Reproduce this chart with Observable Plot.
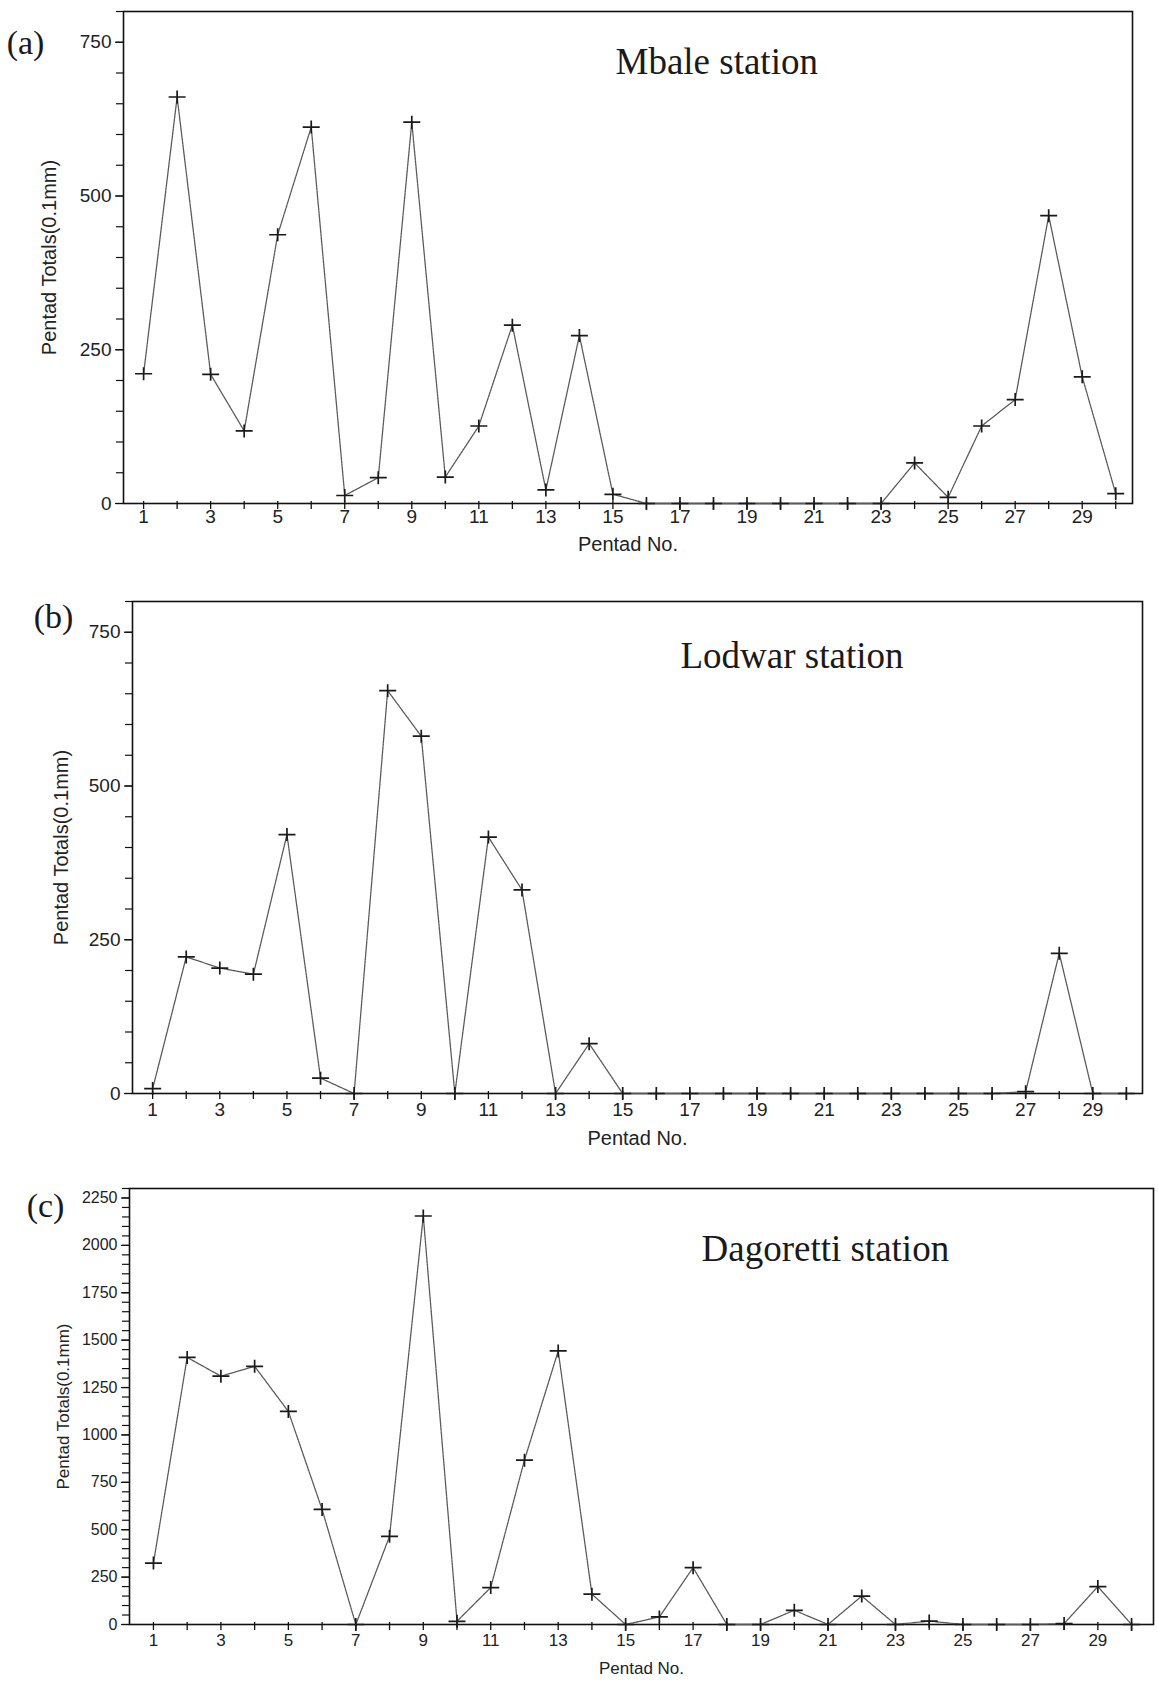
<!DOCTYPE html>
<html>
<head>
<meta charset="utf-8">
<script src="https://cdn.jsdelivr.net/npm/d3@7"></script>
<script src="https://cdn.jsdelivr.net/npm/@observablehq/plot@0.6"></script>
<style>
  html, body { margin: 0; padding: 0; background: #ffffff; }
  body { width: 1158px; height: 1682px; position: relative; overflow: hidden; font-family: "Liberation Sans", Arial, sans-serif; }
  .panel { position: absolute; left: 0; }
</style>
</head>
<body>
<div id="pa" class="panel" style="top:0px"></div>
<div id="pb" class="panel" style="top:580px"></div>
<div id="pc" class="panel" style="top:1160px"></div>
<script>
// ---------- data ----------
const pentads = [1,2,3,4,5,6,7,8,9,10,11,12,13,14,15,16,17,18,19,20,21,22,23,24,25,26,27,28,29,30];
const xTickLabels = [1,3,5,7,9,11,13,15,17,19,21,23,25,27,29];

const mbaleValues = [211, 661, 210, 118, 437, 612, 13, 42, 620, 43, 126, 290, 22, 273, 15,
                     0, 0, 0, 0, 0, 0, 0, 0, 66, 10, 126, 169, 468, 206, 16];
const lodwarValues = [8, 222, 204, 194, 421, 25, 0, 655, 581, 0, 417, 331, 0, 81, 0,
                      0, 0, 0, 0, 0, 0, 0, 0, 0, 0, 0, 3, 228, 0, 0];
const dagorettiValues = [324, 1409, 1310, 1362, 1124, 607, 0, 465, 2155, 17, 195, 867, 1443, 160, 0,
                         40, 300, 0, 0, 75, 0, 150, 0, 18, 0, 0, 0, 5, 200, 0];

const yTicksAB = [0, 250, 500, 750];
const yMinorAB = [0,50,100,150,200,250,300,350,400,450,500,550,600,650,700,750,800];
const yTicksC = [0, 250, 500, 750, 1000, 1250, 1500, 1750, 2000, 2250];
const yMinorC = [0,50,100,150,200,250,300,350,400,450,500,550,600,650,700,750,800,850,900,950,1000,
                 1050,1100,1150,1200,1250,1300,1350,1400,1450,1500,1550,1600,1650,1700,1750,1800,1850,
                 1900,1950,2000,2050,2100,2150,2200,2250,2300];

const panelLetters = ["(a)", "(b)", "(c)"];
const stationNames = ["Mbale station", "Lodwar station", "Dagoretti station"];
const yLabel = "Pentad Totals(0.1mm)";
const xLabel = "Pentad No.";

// ---------- drawing ----------
const plusSymbol = {
  draw(ctx) {
    ctx.moveTo(-8.5, 0); ctx.lineTo(8.5, 0);
    ctx.moveTo(0, -6.5); ctx.lineTo(0, 6.5);
  }
};

const SANS = "'Liberation Sans', Arial, Helvetica, sans-serif";
const SERIF = "'Liberation Serif', 'Times New Roman', serif";

function makePanel(cfg) {
  const table = pentads.map((p, i) => ({pentad: p, value: cfg.values[i]}));
  const chart = Plot.plot({
    width: 1158,
    height: cfg.height,
    marginTop: cfg.mt, marginRight: cfg.mr, marginBottom: cfg.mb, marginLeft: cfg.ml,
    x: {domain: cfg.xDomain},
    y: {domain: cfg.yDomain},
    style: {fontFamily: SANS, background: "transparent", color: "#111", fontSize: cfg.tickFont + "px"},
    marks: [
      Plot.axisY({ticks: cfg.yMinor, tickSize: 7, tickFormat: () => "", label: null, stroke: "#111", strokeWidth: 1.2}),
      Plot.axisY({ticks: cfg.yMajor, tickSize: 8, tickPadding: 4, tickFormat: d => String(d), label: null,
        fontSize: cfg.tickFont, stroke: "#111", strokeWidth: 1.2, fill: "#222"}),
      Plot.axisX({ticks: pentads, tickSize: 8, dy: -2, tickFormat: () => "", label: null, stroke: "#111", strokeWidth: 1.3}),
      Plot.axisX({ticks: xTickLabels, tickSize: 0, tickPadding: cfg.xPad, tickFormat: d => String(d), label: null,
        fontSize: cfg.xTickFont, fill: "#222"}),
      Plot.frame({stroke: "#111", strokeWidth: 1.6}),
      Plot.line(table, {x: "pentad", y: "value", stroke: "#5a5a5a", strokeWidth: 1.3, strokeDasharray: "2.5,0.8"}),
      Plot.dot(table, {x: "pentad", y: "value", symbol: plusSymbol, stroke: "#1a1a1a", strokeWidth: 1.7, fill: "none"}),
      Plot.text([cfg.station], {text: d => d, frameAnchor: "top-left", dx: cfg.titleDx, dy: cfg.titleDy,
        textAnchor: "start", lineAnchor: "bottom", fontFamily: SERIF, fontSize: 37, fill: "#1a1a1a"}),
      Plot.text([cfg.letter], {text: d => d, frameAnchor: "top-left", dx: cfg.letterDx, dy: cfg.letterDy,
        textAnchor: "middle", lineAnchor: "middle", fontFamily: SERIF, fontSize: 34, fill: "#1a1a1a"}),
      Plot.text([yLabel], {text: d => d, frameAnchor: "left", dx: cfg.yLabDx, rotate: -90,
        textAnchor: "middle", lineAnchor: "middle", fontSize: cfg.labFont, fill: "#222"}),
      Plot.text([xLabel], {text: d => d, frameAnchor: "bottom", dy: cfg.xLabDy,
        textAnchor: "middle", lineAnchor: "middle", fontSize: cfg.labFont, fill: "#222"})
    ]
  });
  document.getElementById(cfg.el).appendChild(chart);
}

makePanel({
  el: "pa", values: mbaleValues, height: 560, mt: 11, mr: 26, mb: 57, ml: 123,
  xDomain: [0.4, 30.5], yDomain: [0, 800], yMajor: yTicksAB, yMinor: yMinorAB,
  station: stationNames[0], letter: panelLetters[0],
  titleDx: 492, titleDy: 62, letterDx: -98, letterDy: 32,
  yLabDx: -74, xLabDy: 41, tickFont: 19, xTickFont: 19, xPad: 6, labFont: 20
});
makePanel({
  el: "pb", values: lodwarValues, height: 580, mt: 21, mr: 16, mb: 67, ml: 132,
  xDomain: [0.4, 30.48], yDomain: [0, 800], yMajor: yTicksAB, yMinor: yMinorAB,
  station: stationNames[1], letter: panelLetters[1],
  titleDx: 548, titleDy: 66, letterDx: -79, letterDy: 16,
  yLabDx: -71, xLabDy: 45, tickFont: 19, xTickFont: 19, xPad: 9, labFont: 20
});
makePanel({
  el: "pc", values: dagorettiValues, height: 522, mt: 28, mr: 5, mb: 58, ml: 129,
  xDomain: [0.29, 30.65], yDomain: [0, 2300], yMajor: yTicksC, yMinor: yMinorC,
  station: stationNames[2], letter: panelLetters[2],
  titleDx: 572, titleDy: 72, letterDx: -84, letterDy: 18,
  yLabDx: -66, xLabDy: 44, tickFont: 16, xTickFont: 17, xPad: 9, labFont: 17
});
</script>
</body>
</html>
